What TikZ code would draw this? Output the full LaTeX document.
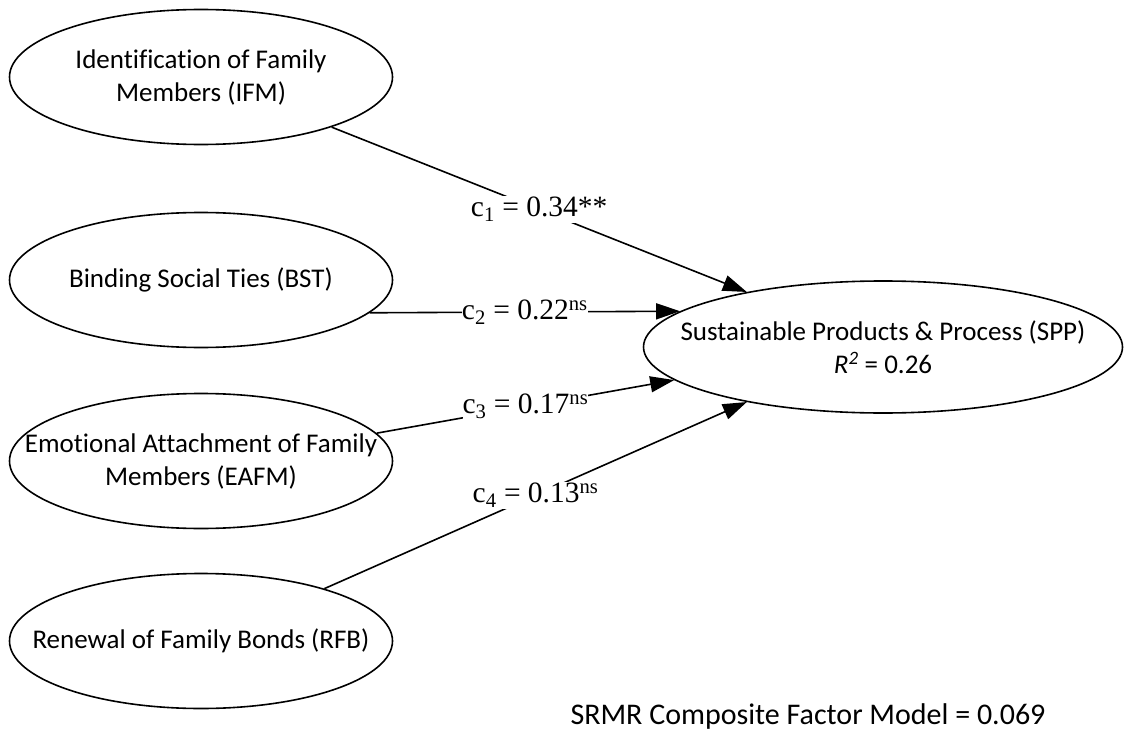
\documentclass[tikz,border=0pt]{standalone}
\usepackage{fontspec}
\setmainfont{Carlito}[Ligatures=NoCommon]
\newfontfamily\coeffont{Liberation Serif}
\usetikzlibrary{shapes.geometric, arrows.meta, positioning, calc}
\tikzset{
    construct/.style={
        ellipse,
        draw=black,
        line width=1.6pt,
        minimum width=#1,
        minimum height=135pt,
        inner sep=0pt
    },
    construct/.default=383pt,
    ctext/.style={
        font=\fontsize{27}{33}\selectfont,
        align=center,
        inner sep=0pt
    },
    coef/.style={
        fill=white,
        inner sep=1pt,
        font=\coeffont\fontsize{29.5}{35}\selectfont
    },
    arrow/.style={
        -{Triangle[length=24pt,width=16pt]},
        line width=1.6pt,
        black
    }
}

\begin{document}
\begin{tikzpicture}[x=1pt, y=-1pt]
        \useasboundingbox (0,0) rectangle (1124,733);

        % Exogenous constructs
        \node[construct, label={[ctext]center:{Identification of Family\\Members (IFM)}}] (IFM) at (201,77) {};
        \node[construct, label={[ctext]center:{Binding Social Ties (BST)}}] (BST) at (201,280) {};
        \node[construct, label={[ctext]center:{Emotional Attachment of Family\\Members (EAFM)}}] (EAFM) at (201,461) {};
        \node[construct, label={[ctext]center:{Renewal of Family Bonds (RFB)}}] (RFB) at (201,641) {};

        % Endogenous construct
        \node[construct=479pt, minimum height=132pt, label={[ctext]center:{Sustainable Products \& Process (SPP)\\\textit{R}\textsuperscript{\textit{2}} = 0.26}}] (SPP) at (883,347) {};

        % Paths
        \draw[arrow] (IFM.-21.6) -- node[coef, midway] (c1) {c\textsubscript{1} = 0.34**} (SPP.158.3);
        \draw[arrow] (BST.-11.2) -- node[coef, midway, inner sep=0pt] (c2) {c\textsubscript{2} = 0.22\textsuperscript{ns}} (SPP.170.6);
        \draw[arrow] (EAFM.9.5) -- node[coef, midway, inner sep=0pt] (c3) {c\textsubscript{3} = 0.17\textsuperscript{ns}} (SPP.189.5);
        \draw[arrow] (RFB.23.1) -- node[coef, midway] (c4) {c\textsubscript{4} = 0.13\textsuperscript{ns}} (SPP.202.8);

        % Fit
        \node[ctext, font=\fontsize{30}{36}\selectfont] (srmr) at (808,716) {SRMR Composite Factor Model = 0.069};
    \end{tikzpicture}
\end{document}
